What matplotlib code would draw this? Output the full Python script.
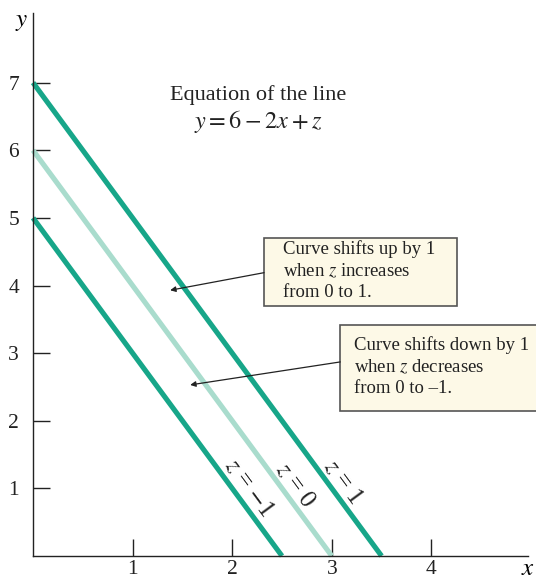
import numpy as np
import matplotlib
matplotlib.use("Agg")
import matplotlib.pyplot as plt
from matplotlib.patches import Rectangle

plt.rcParams['font.family'] = ['Liberation Serif', 'DejaVu Serif']
plt.rcParams['mathtext.fontset'] = 'stix'

# the three lines y = 6 - 2x + z
z_values = [-1, 0, 1]
y_start = [5, 6, 7]
x_end = [2.5, 3.0, 3.5]
line_colors = ['#17a689', '#a9dccd', '#17a689']
label_pos = [(2.17, 1.01), (2.63, 1.05), (3.11, 1.09)]
label_text = [r'$z$ = $-$1', r'$z$ = 0', r'$z$ = 1']

xticks = [1, 2, 3, 4]
yticks = [1, 2, 3, 4, 5, 6, 7]

fig = plt.figure(figsize=(5.36, 5.81), dpi=100)
ax = fig.add_axes([33 / 536, 25 / 581, (528 - 33) / 536, (556 - 13) / 581])
ax.set_xlim(0, 4.97)
ax.set_ylim(0, 8.03)

for ys, xe, c in zip(y_start, x_end, line_colors):
    ax.plot([0, xe], [ys, 0], color=c, lw=3.7, solid_capstyle='butt', clip_on=False)

# rotation of the line in screen space
p0 = ax.transData.transform((0, 6))
p1 = ax.transData.transform((3, 0))
ang = np.degrees(np.arctan2(p1[1] - p0[1], p1[0] - p0[0]))
for (lx, ly), t in zip(label_pos, label_text):
    ax.text(lx, ly, t, rotation=ang, rotation_mode='anchor', ha='center', va='center',
            fontsize=18, color='#222222')

ax.spines['top'].set_visible(False)
ax.spines['right'].set_visible(False)
for s in ['left', 'bottom']:
    ax.spines[s].set_linewidth(1.0)
    ax.spines[s].set_color('#222222')
ax.set_xticks(xticks)
ax.set_yticks(yticks)
ax.tick_params(direction='in', length=12, width=1.0, color='#222222',
               labelsize=15.5, labelcolor='#222222')
ax.tick_params(axis='x', pad=3)
ax.tick_params(axis='y', pad=10)

ax.text(-0.11, 7.9, r'$y$', fontsize=18, ha='center', va='center', clip_on=False)
ax.text(4.97, -0.19, r'$x$', fontsize=18, ha='center', va='center', clip_on=False)

ax.text(2.26, 6.82, 'Equation of the line', fontsize=16, ha='center', va='center', color='#222222')
ax.text(2.26, 6.42, r'$y = 6 - 2x + z$', fontsize=17.5, ha='center', va='center', color='#222222')

# callout boxes
box_face = '#fdf9e7'
box_edge = '#555555'
ax.add_patch(Rectangle((2.32, 3.70), 1.94, 1.00, facecolor=box_face, edgecolor=box_edge,
                       lw=1.2, clip_on=False, zorder=3))
ax.text(2.51, 4.22, 'Curve shifts up by 1\nwhen $z$ increases\nfrom 0 to 1.', fontsize=13.5,
        ha='left', va='center', linespacing=1.3, color='#222222', zorder=4)
ax.add_patch(Rectangle((3.085, 2.14), 2.0, 1.28, facecolor=box_face, edgecolor=box_edge,
                       lw=1.2, clip_on=False, zorder=3))
ax.text(3.22, 2.80, 'Curve shifts down by 1\nwhen $z$ decreases\nfrom 0 to \u20131.', fontsize=13.5,
        ha='left', va='center', linespacing=1.3, color='#222222', zorder=4, clip_on=False)

arrow = dict(arrowstyle='-|>', color='#222222', lw=0.9, mutation_scale=8, shrinkA=0, shrinkB=0)
ax.annotate('', xy=(1.377, 3.93), xytext=(2.32, 4.19), arrowprops=arrow)
ax.annotate('', xy=(1.578, 2.53), xytext=(3.085, 2.87), arrowprops=arrow)

fig.savefig('out.png', dpi=100)
